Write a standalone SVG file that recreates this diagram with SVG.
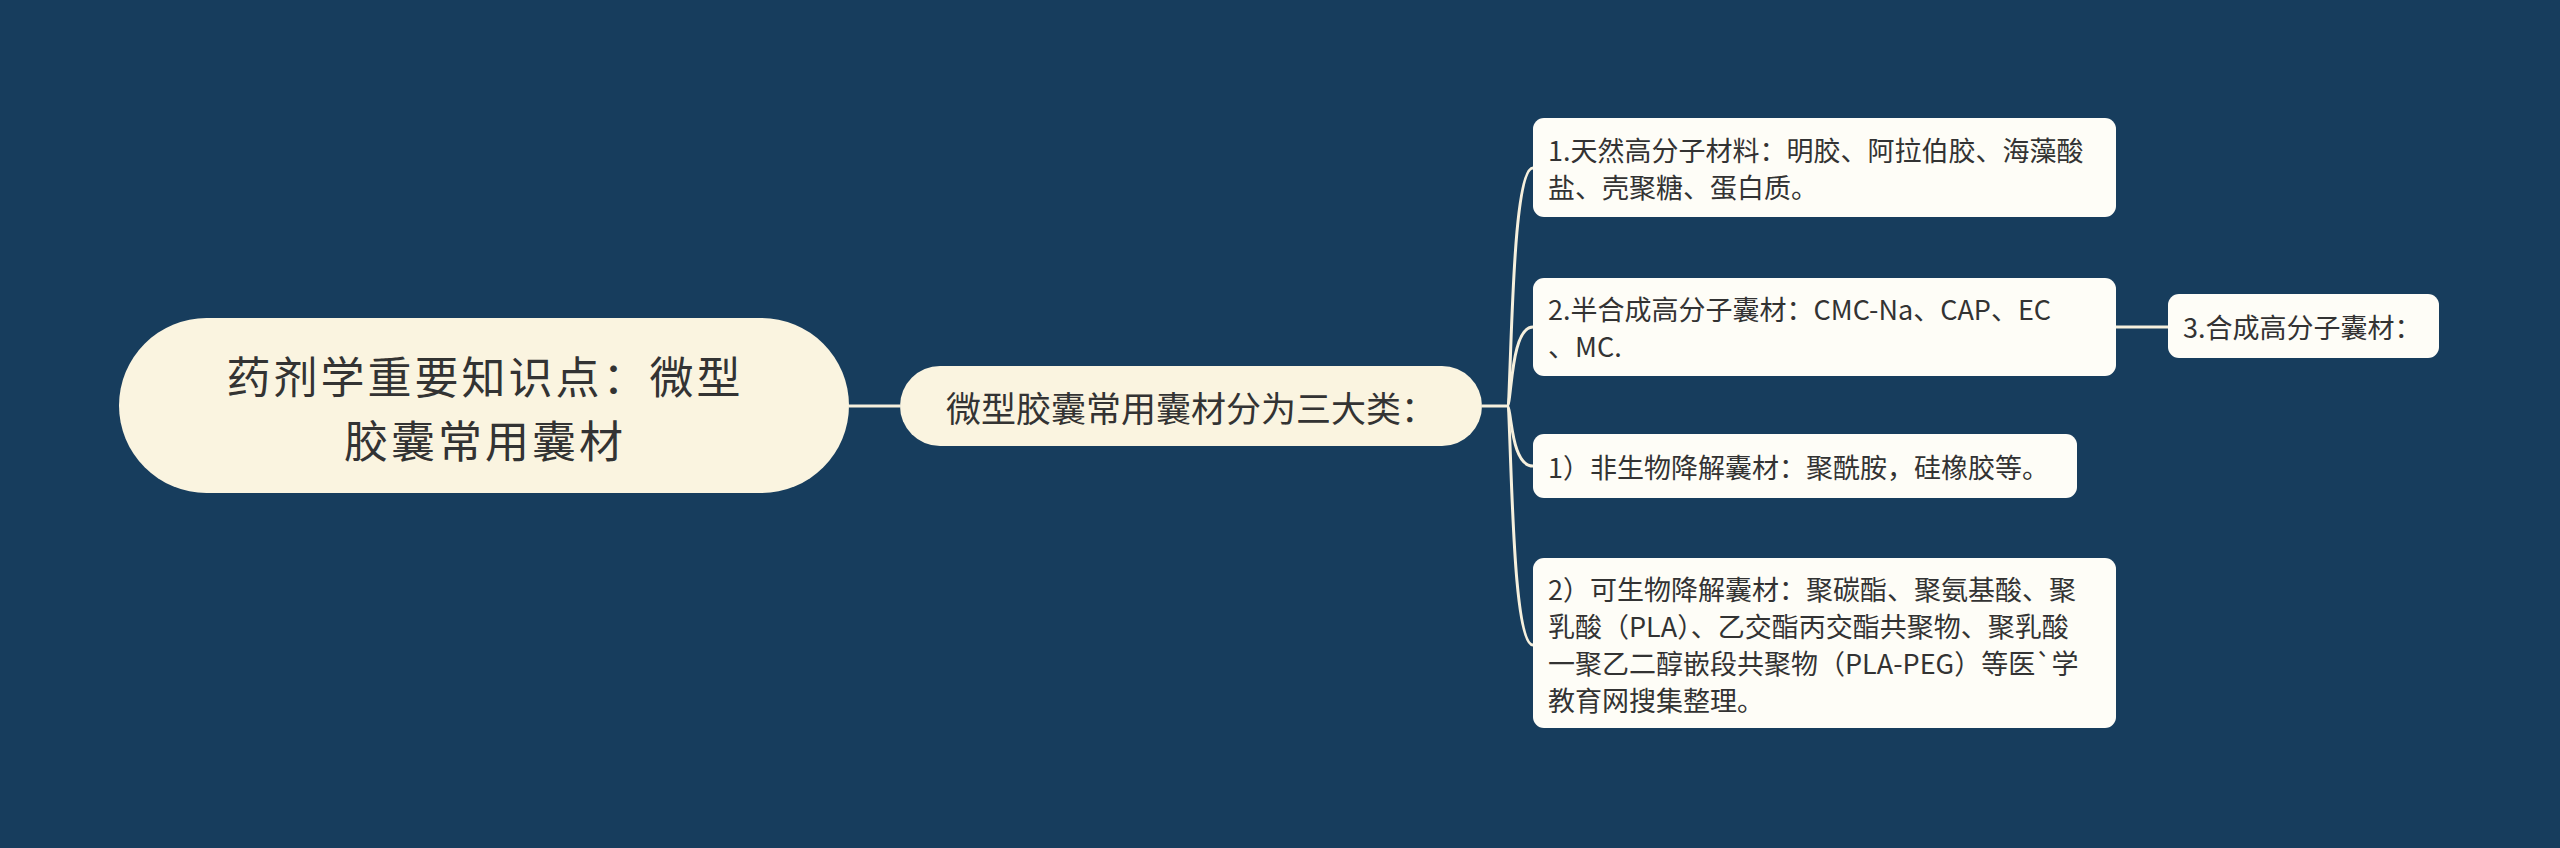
<svg xmlns="http://www.w3.org/2000/svg" width="2560" height="848" viewBox="0 0 2560 848">
<style>
.t{font-family:"Noto Sans CJK SC","Noto Sans",sans-serif;fill:#333333;dominant-baseline:central}
.c{fill:none;stroke:#F6F0DD;stroke-width:3}
.leaf{fill:#FEFDF7}
.main{fill:#FAF4E0}
</style>
<rect width="2560" height="848" fill="#173D5D"/>
<g id="connectors">
<path class="c" d="M849,406 L900,406"/>
<path class="c" d="M1482,406 L1507,406"/>
<path class="c" d="M1507,406 C1512,406 1510,168 1533,168"/>
<path class="c" d="M1507,406 C1512,406 1510,327 1533,327"/>
<path class="c" d="M1507,406 C1512,406 1510,466 1533,466"/>
<path class="c" d="M1507,406 C1512,406 1510,645 1533,645"/>
<path class="c" d="M2116,327 L2168,327"/>
</g>
<g id="root">
<rect class="main" x="119" y="318" width="730" height="175" rx="87.5"/>
<text class="t" x="485" y="375" font-size="44" letter-spacing="3" text-anchor="middle">药剂学重要知识点：微型</text>
<text class="t" x="485" y="439" font-size="44" letter-spacing="3" text-anchor="middle">胶囊常用囊材</text>
</g>
<g id="middle">
<rect class="main" x="900" y="366" width="582" height="80" rx="40"/>
<text class="t" x="1191" y="406" font-size="35" text-anchor="middle">微型胶囊常用囊材分为三大类：</text>
</g>
<g id="n1">
<rect class="leaf" x="1533" y="118" width="583" height="99" rx="11"/>
<text class="t" x="1548" y="149" font-size="27">1.天然高分子材料：明胶、阿拉伯胶、海藻酸</text>
<text class="t" x="1548" y="186" font-size="27">盐、壳聚糖、蛋白质。</text>
</g>
<g id="n2">
<rect class="leaf" x="1533" y="278" width="583" height="98" rx="11"/>
<text class="t" x="1548" y="308.5" font-size="27">2.半合成高分子囊材：CMC-Na、CAP、EC</text>
<text class="t" x="1548" y="345.5" font-size="27">、MC.</text>
</g>
<g id="n5">
<rect class="leaf" x="2168" y="294" width="271" height="64" rx="11"/>
<text class="t" x="2183" y="326" font-size="27">3.合成高分子囊材：</text>
</g>
<g id="n3">
<rect class="leaf" x="1533" y="434" width="544" height="64" rx="11"/>
<text class="t" x="1548" y="466" font-size="27">1）非生物降解囊材：聚酰胺，硅橡胶等。</text>
</g>
<g id="n4">
<rect class="leaf" x="1533" y="558" width="583" height="170" rx="11"/>
<text class="t" x="1548" y="588" font-size="27">2）可生物降解囊材：聚碳酯、聚氨基酸、聚</text>
<text class="t" x="1548" y="625" font-size="27">乳酸（PLA）、乙交酯丙交酯共聚物、聚乳酸</text>
<text class="t" x="1548" y="662" font-size="27">一聚乙二醇嵌段共聚物（PLA-PEG）等医`学</text>
<text class="t" x="1548" y="699" font-size="27">教育网搜集整理。</text>
</g>
</svg>
